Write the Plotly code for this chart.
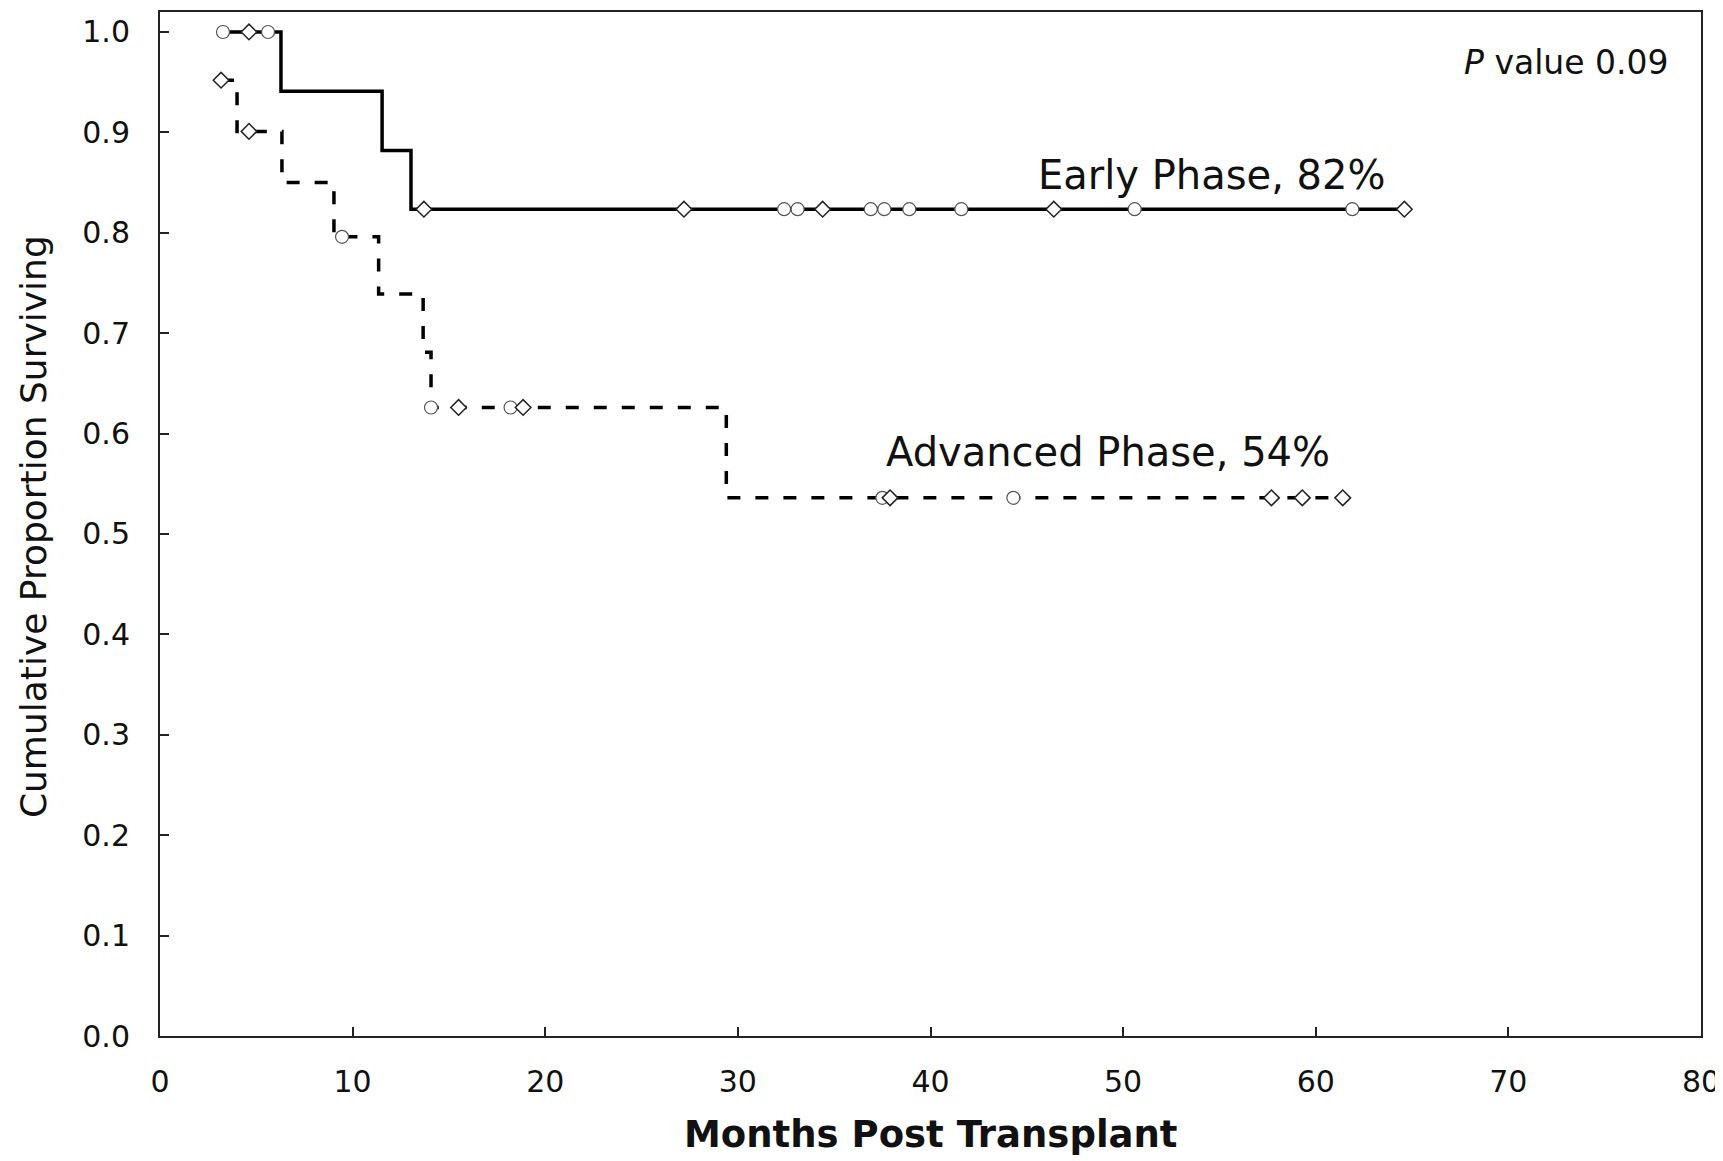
import plotly.graph_objects as go

# ---- data (months post transplant, cumulative proportion surviving) ----
early_t = [3.27, 6.28, 11.53, 13.03, 64.6]
early_s = [1.0, 0.941, 0.882, 0.8235, 0.8235]
early_diamond_t = [4.62, 13.7, 27.2, 34.4, 46.4, 64.6]
early_diamond_s = [1.0, 0.8235, 0.8235, 0.8235, 0.8235, 0.8235]
early_circle_t = [3.27, 5.61, 32.4, 33.1, 36.9, 37.6, 38.9, 41.6, 50.6, 61.9]
early_circle_s = [1.0, 1.0, 0.8235, 0.8235, 0.8235, 0.8235, 0.8235, 0.8235, 0.8235, 0.8235]

adv_t = [3.17, 4.0, 6.33, 9.03, 11.35, 13.66, 14.07, 29.4, 61.4]
adv_s = [0.952, 0.901, 0.850, 0.796, 0.739, 0.681, 0.626, 0.536, 0.536]
adv_diamond_t = [3.17, 4.62, 15.5, 18.85, 37.9, 57.7, 59.3, 61.4]
adv_diamond_s = [0.952, 0.901, 0.626, 0.626, 0.536, 0.536, 0.536, 0.536]
adv_circle_t = [9.45, 14.07, 18.2, 37.5, 44.3]
adv_circle_s = [0.796, 0.626, 0.626, 0.536, 0.536]

x_ticks = [0, 10, 20, 30, 40, 50, 60, 70, 80]
y_ticks = [0.0, 0.1, 0.2, 0.3, 0.4, 0.5, 0.6, 0.7, 0.8, 0.9, 1.0]

labels = ["Early Phase, 82%", "Advanced Phase, 54%"]
label_pos = [(54.6, 0.858), (49.2, 0.582)]
p_text = "<i>P</i> value 0.09"
p_pos = (78.45, 0.970)
x_title = "Months Post Transplant"
y_title = "Cumulative Proportion Surviving"

FONT = "DejaVu Sans"

fig = go.Figure()

fig.add_trace(go.Scatter(x=early_t, y=early_s, mode="lines", line_shape="hv",
                         line=dict(color="#000000", width=3.5), name="Early Phase",
                         showlegend=False, hoverinfo="skip"))
fig.add_trace(go.Scatter(x=adv_t, y=adv_s, mode="lines", line_shape="hv",
                         line=dict(color="#000000", width=3.5, dash="13px,15px"),
                         name="Advanced Phase", showlegend=False, hoverinfo="skip"))

circle_style = dict(symbol="circle", size=13, color="white",
                    line=dict(color="#555555", width=1.2))
diamond_style = dict(symbol="diamond", size=12, color="white",
                     line=dict(color="#222222", width=1.5))

fig.add_trace(go.Scatter(x=early_circle_t, y=early_circle_s, mode="markers",
                         marker=circle_style, showlegend=False))
fig.add_trace(go.Scatter(x=early_diamond_t, y=early_diamond_s, mode="markers",
                         marker=diamond_style, showlegend=False))
fig.add_trace(go.Scatter(x=adv_circle_t, y=adv_circle_s, mode="markers",
                         marker=circle_style, showlegend=False))
fig.add_trace(go.Scatter(x=adv_diamond_t, y=adv_diamond_s, mode="markers",
                         marker=diamond_style, showlegend=False))

for txt, (xx, yy) in zip(labels, label_pos):
    fig.add_annotation(x=xx, y=yy, text=txt, showarrow=False, xanchor="center",
                       yanchor="middle", font=dict(family=FONT, size=40, color="#111111"))

fig.add_annotation(x=p_pos[0], y=p_pos[1], text=p_text, showarrow=False,
                   xanchor="right", yanchor="middle",
                   font=dict(family=FONT, size=33, color="#111111"))

# axis titles placed as annotations in paper coordinates
fig.add_annotation(xref="paper", yref="paper", x=0.5, y=-0.0965, text=f"<b>{x_title}</b>",
                   showarrow=False, xanchor="center", yanchor="middle",
                   font=dict(family=FONT, size=37, color="#111111"))
fig.add_annotation(xref="paper", yref="paper", x=-0.0824, y=0.497, text=y_title,
                   showarrow=False, xanchor="center", yanchor="middle", textangle=-90,
                   font=dict(family=FONT, size=36, color="#111111"))

axis_common = dict(showgrid=False, zeroline=False, showline=True, mirror=True,
                   linecolor="#222222", linewidth=2, ticks="inside", ticklen=9,
                   tickwidth=2, tickcolor="#222222", automargin=False,
                   tickfont=dict(family=FONT, size=30, color="#111111"))

fig.update_xaxes(range=[0, 80], tickvals=x_ticks, ticktext=[str(v) for v in x_ticks],
                 ticklabelstandoff=18, **axis_common)
fig.update_yaxes(range=[0, 1.0199], tickvals=y_ticks,
                 ticktext=[f"{v:.1f}" for v in y_ticks],
                 ticklabelstandoff=22, **axis_common)

# the page places the figure 8px from the top-left corner, so the figure is
# sized to fill the remaining 1715x1153 of the window
fig.update_layout(width=1715, height=1153, autosize=False,
                  margin=dict(l=152, r=22, t=4, b=125),
                  plot_bgcolor="white", paper_bgcolor="white",
                  showlegend=False)

fig.write_html("out.html")
